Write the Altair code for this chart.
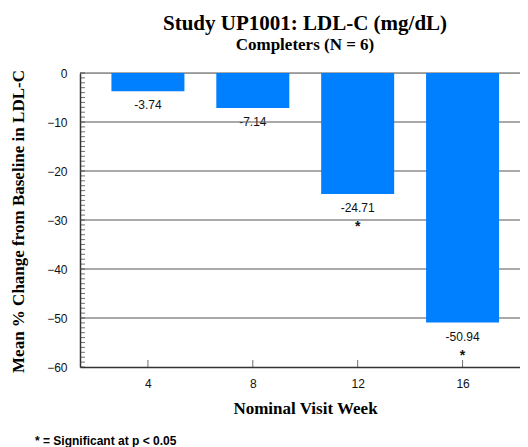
import altair as alt
import pandas as pd

weeks = [4, 8, 12, 16]
changes = [-3.74, -7.14, -24.71, -50.94]
value_labels = ["-3.74", "-7.14", "-24.71", "-50.94"]
significant = ["", "", "*", "*"]
grid_values = [0, -10, -20, -30, -40, -50]
y_ticks = [-60, -50, -40, -30, -20, -10, 0]
minor_ticks = list(range(-60, 1))
footnote = ["* = Significant at p < 0.05"]

df = pd.DataFrame({"week": weeks, "change": changes, "label": value_labels, "sig": significant})
grid_df = pd.DataFrame({"g": grid_values})
minor_df = pd.DataFrame({"m": minor_ticks})
foot_df = pd.DataFrame({"note": footnote})

SERIF = "Liberation Serif"
SANS = "Liberation Sans"

xscale = alt.Scale(domain=[1.6, 18.0], nice=False, zero=False)
yscale = alt.Scale(domain=[-60, 0], nice=False)

xaxis = alt.Axis(values=weeks, title="Nominal Visit Week", ticks=False, grid=False,
                 labelFont=SANS, labelFontSize=12, labelColor="#111", labelPadding=11,
                 titleFont=SERIF, titleFontSize=17, titleFontWeight="bold", titleColor="#000",
                 titlePadding=11, titleX=225, titleAlign="center",
                 domainColor="#333", domainWidth=1.5)
yaxis = alt.Axis(values=y_ticks, title="Mean % Change from Baseline in LDL-C", ticks=False, grid=False,
                 labelFont=SANS, labelFontSize=12, labelColor="#111", labelPadding=13,
                 titleFont=SERIF, titleFontSize=17, titleFontWeight="bold", titleColor="#000",
                 titleX=-62, titleY=148, titleAngle=-90, titleAlign="center", titleBaseline="middle",
                 domainColor="#333", domainWidth=1.5)

base = alt.Chart(df)

texts = base.mark_text(font=SANS, fontSize=12, color="#111", dy=14, baseline="middle").encode(
    x=alt.X("week:Q", scale=xscale, axis=xaxis),
    y=alt.Y("change:Q", scale=yscale, axis=yaxis),
    text="label:N",
)
stars = base.mark_text(font=SANS, fontSize=14, fontWeight="bold", color="#111", dy=33, baseline="middle").encode(
    x=alt.X("week:Q", scale=xscale),
    y=alt.Y("change:Q", scale=yscale),
    text="sig:N",
)
grid = alt.Chart(grid_df).mark_rule(color="#555", strokeWidth=1.2).encode(
    y=alt.Y("g:Q", scale=yscale),
)
bars = base.mark_bar(size=73, color="#0080ff").encode(
    x=alt.X("week:Q", scale=xscale),
    y=alt.Y("change:Q", scale=yscale),
)
minor = alt.Chart(minor_df).mark_tick(orient="horizontal", size=5, thickness=1, color="#333").encode(
    y=alt.Y("m:Q", scale=yscale),
    x=alt.value(2.5),
)
xticks = base.mark_tick(orient="vertical", size=7, thickness=1, color="#333").encode(
    x=alt.X("week:Q", scale=xscale),
    y=alt.value(290.5),
)
foot = alt.Chart(foot_df).mark_text(font=SANS, fontSize=12, fontWeight="bold", color="#000",
                                    align="left", baseline="middle").encode(
    x=alt.value(-45), y=alt.value(368), text="note:N"
)

chart = alt.layer(texts, stars, grid, bars, minor, xticks, foot).properties(
    width=440, height=294,
    autosize=alt.AutoSizeParams(type="none"),
    padding={"left": 72, "top": 65, "right": 0, "bottom": 82},
    title=alt.TitleParams(text="Study UP1001: LDL-C (mg/dL)", subtitle="Completers (N = 6)",
                          font=SERIF, fontSize=21, fontWeight="bold", color="#000",
                          subtitleFont=SERIF, subtitleFontSize=17, subtitleFontWeight="bold",
                          subtitleColor="#000", subtitlePadding=3, anchor="middle", offset=14, dx=5),
).configure_view(stroke=None).configure(background="white")

chart.save("out.html", embed_options={"renderer": "svg", "actions": False})
